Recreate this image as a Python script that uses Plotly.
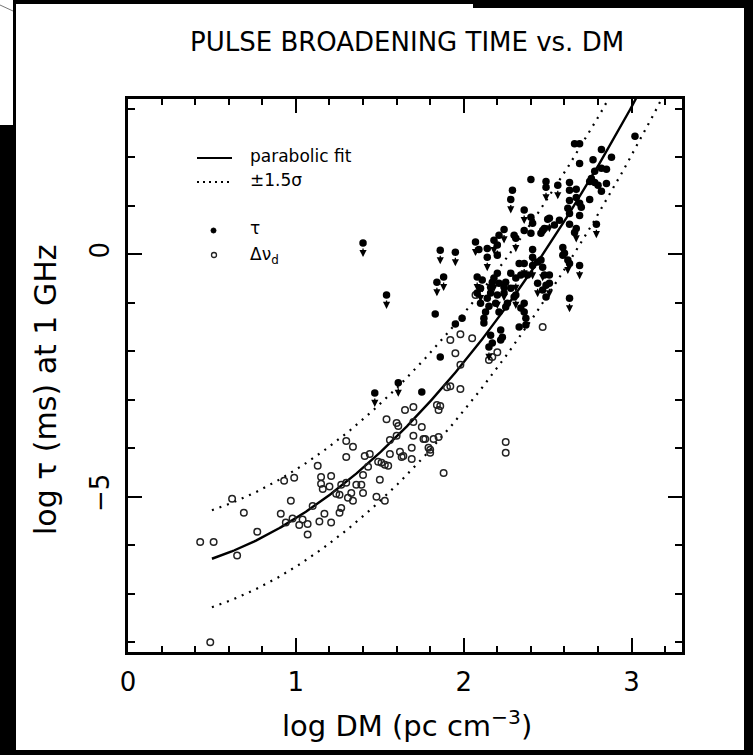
import numpy as np
import plotly.graph_objects as go

# ---------------- data ----------------
# Delta nu_d derived points (open circles)
dnu_logdm = [0.43, 0.51, 0.65, 0.49, 0.62, 0.69, 0.77, 0.93, 0.99, 0.97,
             0.91, 0.94, 0.98, 1.02, 1.04, 1.07, 1.07, 1.10, 1.13, 1.14,
             1.17, 1.21, 1.15, 1.15, 1.16, 1.20, 1.21, 1.24, 1.26, 1.27,
             1.27, 1.26, 1.30, 1.34, 1.30, 1.30, 1.31, 1.33, 1.34, 1.36,
             1.39, 1.40, 1.40, 1.43, 1.44, 1.48, 1.49, 1.51, 1.53, 1.55,
             1.50, 1.53, 1.54, 1.56, 1.56, 1.60, 1.61, 1.60, 1.62, 1.64,
             1.65, 1.70, 1.70, 1.69, 1.69, 1.70, 1.75, 1.76, 1.77, 1.79,
             1.80, 1.82, 1.84, 1.85, 1.86, 1.85, 1.90, 1.92, 1.98, 1.88,
             1.80, 1.63, 1.98, 1.92, 2.05, 1.95, 1.98, 2.25, 2.25, 2.15,
             2.17, 2.47, 1.41, 2.07, 2.20]
dnu_logtau = [-5.93, -5.93, -6.21, -8.00, -5.04, -5.33, -5.72, -4.67, -4.61, -5.08,
              -5.35, -5.53, -5.45, -5.58, -5.47, -5.56, -5.78, -5.19, -4.36, -5.51,
              -5.35, -5.53, -4.59, -4.73, -4.84, -4.79, -4.57, -4.94, -4.96, -4.75,
              -5.23, -5.33, -3.85, -3.97, -4.18, -4.71, -5.02, -4.92, -5.08, -4.75,
              -4.75, -4.92, -4.55, -4.38, -4.12, -5.00, -4.28, -4.30, -4.34, -4.36,
              -4.65, -5.08, -3.40, -3.83, -4.12, -3.48, -3.54, -3.74, -4.07, -4.16,
              -3.21, -3.15, -3.46, -3.99, -4.22, -3.74, -3.56, -3.81, -3.81, -3.99,
              -4.03, -3.81, -3.11, -3.21, -3.13, -3.77, -2.74, -2.72, -2.78, -4.51,
              -4.09, -4.18, -1.65, -1.77, -1.73, -2.04, -2.28, -3.87, -4.09, -2.18,
              -2.12, -1.50, -4.16, -0.84, -2.02]

# measured tau (filled circles)
tau_logdm = [2.40, 2.49, 2.29, 2.40, 2.41, 2.36, 2.50, 2.47, 2.54, 2.21,
             2.30, 2.09, 2.14, 2.20, 2.11, 2.20, 2.21, 2.16, 2.28, 2.33,
             2.41, 2.46, 2.48, 2.49, 2.51, 2.34, 2.38, 2.28, 2.25, 2.16,
             2.08, 2.10, 2.15, 2.13, 2.12, 2.12, 2.21, 2.25, 2.34, 2.36,
             2.36, 2.37, 2.33, 2.37, 2.22, 2.22, 2.16, 2.17, 1.95, 1.99,
             1.83, 1.86, 1.75, 2.23, 2.19, 2.14, 2.17, 2.24, 2.26, 2.30,
             2.49, 2.47, 2.59, 2.63, 2.44, 2.66, 2.69, 2.69, 2.77, 2.82,
             2.88, 2.82, 2.85, 2.78, 2.63, 2.75, 2.78, 2.85, 2.82, 2.67,
             2.67, 2.63, 2.70, 2.75, 2.62, 2.63, 2.69, 2.57, 2.63, 2.48,
             2.46, 2.59, 2.60, 3.02, 2.66, 2.76, 2.69, 2.80, 2.63, 2.40]
tau_logtau = [1.54, 1.50, 1.32, 0.76, 0.64, 0.49, 0.72, 0.49, 0.60, 0.39,
              0.39, 0.10, 0.12, -0.02, -0.53, -0.39, -0.60, -0.68, -0.39, -0.19,
              -0.06, -0.12, -0.43, -0.64, -0.43, -0.43, -0.43, -0.70, -0.58, -0.80,
              -0.80, -1.01, -1.07, -1.19, -1.32, -1.42, -1.19, -1.09, -1.11, -1.01,
              -1.19, -1.32, -1.50, -1.46, -1.56, -1.77, -1.67, -1.83, -1.44, -1.32,
              -1.23, -2.12, -2.84, -1.71, -1.01, -0.91, -0.58, -0.80, -1.01, -0.88,
              -0.88, -0.74, -0.02, -0.19, -0.16, 2.28, 2.28, 1.87, 1.95, 2.16,
              2.00, 1.77, 1.75, 1.71, 1.48, 1.50, 1.48, 1.46, 1.30, 1.34,
              1.17, 1.11, 0.97, 1.13, 0.95, 0.84, 0.80, 0.70, 0.62, 0.53,
              0.43, 0.14, 0.02, 2.43, 0.45, 1.56, 1.05, 1.42, 1.32, 0.43]

# upper limits on tau (filled circles with down arrows)
ul_logdm = [1.40, 1.54, 1.86, 1.95, 1.84, 1.88, 2.07, 2.08, 2.10, 2.28,
            2.36, 2.49, 2.56, 2.24, 2.18, 2.31, 2.14, 2.18, 2.20, 2.36,
            2.41, 2.47, 2.31, 2.31, 2.15, 2.51, 2.79, 2.67, 2.62, 2.69,
            2.63, 2.41, 2.24, 2.44, 2.51, 1.47, 1.61, 2.20]
ul_logtau = [0.23, -0.84, 0.08, 0.04, -0.58, -0.47, 0.25, -0.47, -0.70, 1.13,
             0.91, 1.38, 1.42, 0.51, 0.29, 0.33, -0.06, -0.49, -0.84, -0.19,
             -0.23, -0.27, -0.49, -0.84, -1.91, 0.74, 0.62, 0.53, -0.12, -0.23,
             -0.91, 0.10, -0.68, -0.60, -0.60, -2.86, -2.65, 0.19]

# parabolic fit: log tau = a + b*logDM + c*logDM^2 ; band = +-1.5 sigma
fit_a, fit_b, fit_c = -6.60, 0.131, 1.0275
fit_band = 1.0
fit_xmin, fit_xmax = 0.5, 3.3

x_range = [0, 3.3]
y_range = [-8.2, 3.2]

# ---------------- figure ----------------
FONT = "DejaVu Sans"
W, H = 753, 755
ML, MR, MT, MB = 128, 71, 99, 103
PW, PH = W - ML - MR, H - MT - MB
YPX = PH / (y_range[1] - y_range[0])  # pixels per log unit on y


def pxx(x):
    return (x - ML) / PW


def pxy(y):
    return (H - MB - y) / PH


fx = np.linspace(fit_xmin, fit_xmax, 300)
fy = fit_a + fit_b * fx + fit_c * fx ** 2

fig = go.Figure()
fig.add_trace(go.Scatter(x=fx, y=fy, mode="lines",
                         line=dict(color="black", width=2.4), hoverinfo="skip"))
fig.add_trace(go.Scatter(x=fx, y=fy + fit_band, mode="lines",
                         line=dict(color="black", width=2.2, dash="2px,6px"), hoverinfo="skip"))
fig.add_trace(go.Scatter(x=fx, y=fy - fit_band, mode="lines",
                         line=dict(color="black", width=2.2, dash="2px,6px"), hoverinfo="skip"))

fig.add_trace(go.Scatter(x=dnu_logdm, y=dnu_logtau, mode="markers",
                         marker=dict(symbol="circle-open", size=6.5, color="#222",
                                     line=dict(width=1.5, color="#222"))))
fig.add_trace(go.Scatter(x=tau_logdm, y=tau_logtau, mode="markers",
                         marker=dict(symbol="circle", size=7.5, color="black")))
fig.add_trace(go.Scatter(x=ul_logdm, y=ul_logtau, mode="markers",
                         marker=dict(symbol="circle", size=7.5, color="black")))

axis_common = dict(
    ticks="inside", ticklen=14, tickwidth=2, tickcolor="black",
    showline=True, linewidth=2.5, linecolor="black", mirror="ticks",
    showgrid=False, zeroline=False,
    tickfont=dict(family=FONT, size=26, color="black"),
)
fig.update_xaxes(range=x_range, tickmode="linear", tick0=0, dtick=1,
                 ticklabelstandoff=5,
                 minor=dict(tick0=0, dtick=0.2, ticks="inside", ticklen=6,
                            tickwidth=1.6, tickcolor="black", showgrid=False),
                 **axis_common)
fig.update_yaxes(range=y_range, tickmode="linear", tick0=0, dtick=5,
                 tickangle=-90, ticklabelstandoff=6,
                 minor=dict(tick0=0, dtick=1, ticks="inside", ticklen=7,
                            tickwidth=1.6, tickcolor="black", showgrid=False),
                 **axis_common)

shapes = []
# scanned-page black borders
for (x0, y0, x1, y1) in [(0, 125, 16, H), (13, 0, 16, 125), (13, 0, 474, 4),
                         (473, 0, W, 8), (744, 0, W, H), (0, 750, W, H)]:
    shapes.append(dict(type="rect", xref="paper", yref="paper",
                       x0=pxx(x0), x1=pxx(x1), y0=pxy(y1), y1=pxy(y0),
                       fillcolor="black", line=dict(width=0), layer="above"))
shapes.append(dict(type="line", xref="paper", yref="paper",
                   x0=pxx(0), y0=pxy(5), x1=pxx(13), y1=pxy(11),
                   line=dict(color="#777", width=1)))
# legend samples
shapes.append(dict(type="line", xref="paper", yref="paper",
                   x0=pxx(197), x1=pxx(232), y0=pxy(158), y1=pxy(158),
                   line=dict(color="black", width=2.2)))
shapes.append(dict(type="line", xref="paper", yref="paper",
                   x0=pxx(197), x1=pxx(232), y0=pxy(182), y1=pxy(182),
                   line=dict(color="black", width=2, dash="2px,4px")))
shapes.append(dict(type="circle", xref="paper", yref="paper",
                   x0=pxx(211), x1=pxx(216), y0=pxy(233), y1=pxy(228),
                   fillcolor="black", line=dict(color="black", width=1)))
shapes.append(dict(type="circle", xref="paper", yref="paper",
                   x0=pxx(211.5), x1=pxx(216.5), y0=pxy(257.5), y1=pxy(252.5),
                   fillcolor="white", line=dict(color="#222", width=1.3)))

ann = [
    dict(text="PULSE BROADENING TIME vs. DM", x=pxx(407), y=pxy(42),
         font=dict(family=FONT, size=26, color="black")),
    dict(text="log DM (pc cm<sup>−3</sup>)", x=pxx(407), y=pxy(724),
         font=dict(family=FONT, size=29, color="black")),
    dict(text="log τ (ms) at 1 GHz", x=pxx(45), y=pxy(390), textangle=-90,
         font=dict(family=FONT, size=30, color="black")),
]
for a in ann:
    a.update(xref="paper", yref="paper", showarrow=False,
             xanchor="center", yanchor="middle")
leg = [("parabolic fit", 156), ("±1.5σ", 180), ("τ", 228), ("Δν<sub>d</sub>", 255)]
for t, yy in leg:
    ann.append(dict(text=t, x=pxx(248), y=pxy(yy), xref="paper", yref="paper",
                    showarrow=False, xanchor="left", yanchor="middle",
                    font=dict(family=FONT, size=17, color="black")))

# down arrows for the upper limits: tail just under the dot, tip ~14 px lower
arrow_drop = 14 / YPX
for xv, yv in zip(ul_logdm, ul_logtau):
    ann.append(dict(x=xv, y=yv - arrow_drop, xref="x", yref="y", text="",
                    showarrow=True, ax=0, ay=-10, arrowhead=2, arrowsize=1.1,
                    arrowwidth=1.3, arrowcolor="black"))

fig.update_layout(
    width=W, height=H, autosize=False,
    margin=dict(l=ML, r=MR, t=MT, b=MB),
    paper_bgcolor="white", plot_bgcolor="white",
    showlegend=False, shapes=shapes, annotations=ann,
)

fig.write_html("out.html", config={"displayModeBar": False},
               post_script="document.body.style.margin='0px';document.body.style.overflow='hidden';")
